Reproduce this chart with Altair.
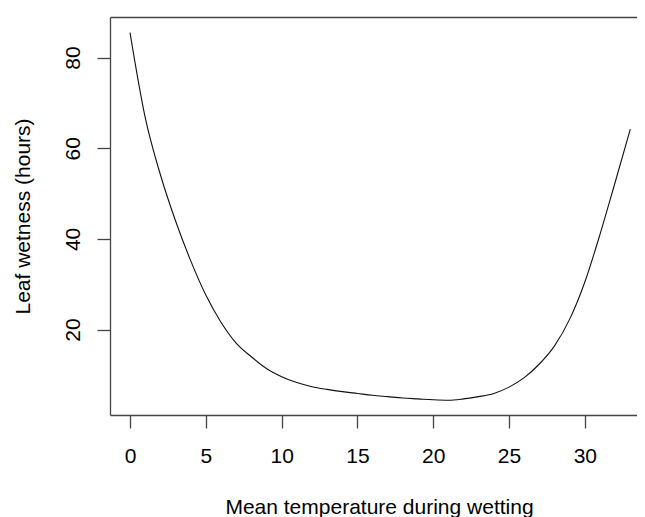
import altair as alt
import pandas as pd

temperature = list(range(0, 34))
leaf_wetness = [85.5, 66.8, 54.2, 44.0, 35.2, 27.6, 21.6, 17.0, 14.0, 11.4,
                9.6, 8.3, 7.4, 6.8, 6.3, 5.9, 5.5, 5.2, 4.9, 4.7,
                4.5, 4.4, 4.7, 5.2, 5.9, 7.3, 9.4, 12.4, 16.4, 22.3,
                30.5, 41.0, 52.5, 64.2]

x_ticks = [0, 5, 10, 15, 20, 25, 30]
y_ticks = [20, 40, 60, 80]

df = pd.DataFrame({"temp": temperature, "wet": leaf_wetness})

FONT = "Liberation Sans"
AX = "#444444"

xscale = alt.Scale(domain=[-1.32, 33.44], nice=False, zero=False)
yscale = alt.Scale(domain=[1.15, 88.95], nice=False, zero=False)

yaxis = alt.Axis(values=y_ticks, orient="left", grid=False,
                 title="Leaf wetness (hours)",
                 tickSize=13, labelPadding=18, labelAngle=270,
                 labelAlign="center", labelBaseline="alphabetic",
                 labelOverlap=False, labelFlush=False,
                 titleAngle=270, titleX=-80.5, titleY=199,
                 titleBaseline="alphabetic", titleAlign="center")

base = alt.Chart(df)

line = base.mark_line(color="#111111", strokeWidth=1.1,
                      interpolate="monotone").encode(
    x=alt.X("temp:Q", scale=xscale,
            axis=alt.Axis(values=x_ticks, orient="bottom", grid=False,
                          title="Mean temperature during wetting",
                          tickSize=13, labelPadding=34.5,
                          labelBaseline="alphabetic", labelFlush=False,
                          labelOverlap=False, titleX=269, titleY=98.5,
                          titleBaseline="alphabetic")),
    y=alt.Y("wet:Q", scale=yscale, axis=yaxis),
)

frame_top = base.mark_line(opacity=0).encode(
    x=alt.X("temp:Q", scale=xscale,
            axis=alt.Axis(orient="top", labels=False, ticks=False, title=None,
                          grid=False, domain=True)),
    y=alt.Y("wet:Q", scale=yscale, axis=yaxis),
)

chart = (
    alt.layer(line, frame_top)
    .resolve_axis(x="independent")
    .properties(width=527, height=398,
                autosize=alt.AutoSizeParams(type="none"),
                padding={"left": 102, "top": 9, "right": 0, "bottom": 102})
    .configure(background="white")
    .configure_view(stroke=None)
    .configure_axis(labelFont=FONT, titleFont=FONT, labelFontSize=21,
                    titleFontSize=21, titleFontWeight="normal",
                    labelColor="#000000", titleColor="#000000",
                    domainColor=AX, tickColor=AX, domainWidth=1.3,
                    tickWidth=1.3)
)

chart.save("out.html", embed_options={"renderer": "svg", "actions": False})
